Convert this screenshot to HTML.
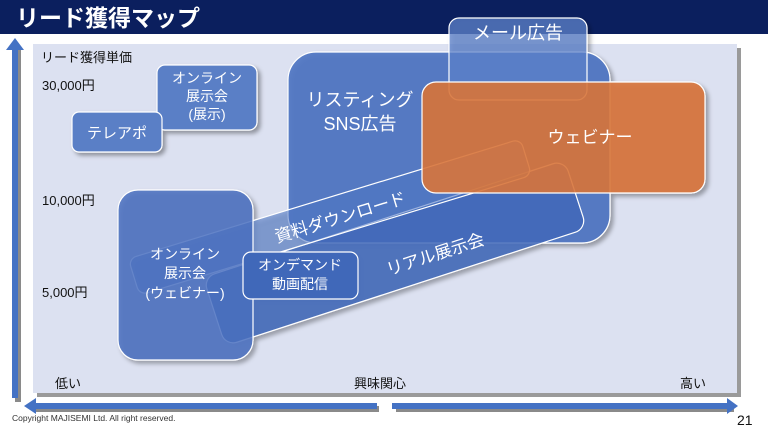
<!DOCTYPE html>
<html><head><meta charset="utf-8"><style>
body{margin:0;width:768px;height:432px;overflow:hidden;background:#fff;font-family:"Liberation Sans","Noto Sans CJK JP",sans-serif;}
svg text{font-family:"Liberation Sans","Noto Sans CJK JP",sans-serif;}
</style></head><body>
<svg width="768" height="432" viewBox="0 0 768 432" xmlns="http://www.w3.org/2000/svg">
<defs>
<filter id="sh" x="-20%" y="-20%" width="140%" height="140%"><feDropShadow dx="3" dy="3" stdDeviation="2" flood-color="#000" flood-opacity="0.35"/></filter>
</defs>
<rect x="0" y="0" width="768" height="34" fill="#0b1f5e"/>
<text x="16" y="26" font-size="23" font-weight="bold" fill="#fff">リード獲得マップ</text>
<rect x="37" y="48" width="704" height="349" fill="#9a9a9a"/>
<rect x="33" y="44" width="704" height="349" fill="#dce1f1"/>
<!-- axes -->
<rect x="15" y="50" width="6" height="352" fill="#8a8a8a"/>
<rect x="12" y="46" width="6" height="352" fill="#4472c4"/>
<polygon points="6,50 15,38 24,50" fill="#4472c4"/>
<rect x="36" y="406" width="343" height="6" fill="#8a8a8a"/>
<rect x="34" y="403" width="343" height="6" fill="#4472c4"/>
<polygon points="36,398 24,406 36,414" fill="#4472c4"/>
<rect x="396" y="406" width="338" height="6" fill="#8a8a8a"/>
<rect x="392" y="403" width="336" height="6" fill="#4472c4"/>
<polygon points="727,398 738,406 727,414" fill="#4472c4"/>
<g font-size="13" fill="#111">
<text x="41" y="62">リード獲得単価</text>
<text x="42" y="90">30,000円</text>
<text x="42" y="205">10,000円</text>
<text x="42" y="297">5,000円</text>
<text x="55" y="388">低い</text>
<text x="354" y="388">興味関心</text>
<text x="680" y="388">高い</text>
</g>
<text x="12" y="421" font-size="8.5" fill="#333">Copyright MAJISEMI Ltd. All right reserved.</text>
<text x="737" y="425" font-size="14" fill="#111">21</text>
<!-- boxes -->
<g stroke="#fff" stroke-width="1.2" filter="url(#sh)">
<rect x="288" y="52" width="322" height="191" rx="28" fill="#4d74c2" fill-opacity="0.9"/>
<rect x="449" y="18" width="138" height="82" rx="10" fill="#5c80c8" fill-opacity="0.75"/>
<rect x="157" y="65" width="100" height="65" rx="8" fill="#5a7fc6"/>
<rect x="72" y="112" width="90" height="40" rx="7" fill="#5a7fc6"/>
<g transform="translate(395,253) rotate(-18)">
<rect x="-190" y="-36" width="380" height="72" rx="12" fill="#4168b9" fill-opacity="0.85"/>
</g>
<g transform="translate(330,217) rotate(-17)">
<rect x="-205" y="-19" width="410" height="38" rx="8" fill="#4d74c2" fill-opacity="0.55"/>
</g>
<rect x="118" y="190" width="135" height="170" rx="20" fill="#4a70c0" fill-opacity="0.85"/>
<rect x="422" y="82" width="283" height="111" rx="14" fill="#d8743a" fill-opacity="0.9"/>
<rect x="243" y="252" width="115" height="47" rx="8" fill="#4168b9"/>
</g>
<g fill="#fff" text-anchor="middle">
<text x="518" y="39" font-size="18">メール広告</text>
<text x="360" y="106" font-size="18">リスティング</text>
<text x="360" y="130" font-size="18">SNS広告</text>
<text x="590" y="143" font-size="17">ウェビナー</text>
<text x="207" y="83" font-size="14">オンライン</text>
<text x="207" y="101" font-size="14">展示会</text>
<text x="207" y="119" font-size="14">(展示)</text>
<text x="117" y="138" font-size="15">テレアポ</text>
<text x="185" y="259" font-size="14">オンライン</text>
<text x="185" y="278" font-size="14">展示会</text>
<text x="185" y="298" font-size="14">(ウェビナー)</text>
<text x="300" y="270" font-size="14">オンデマンド</text>
<text x="300" y="289" font-size="14">動画配信</text>
<text transform="translate(342,223) rotate(-17)" font-size="17">資料ダウンロード</text>
<text transform="translate(437,260) rotate(-18)" font-size="17">リアル展示会</text>
</g>
</svg>
</body></html>
